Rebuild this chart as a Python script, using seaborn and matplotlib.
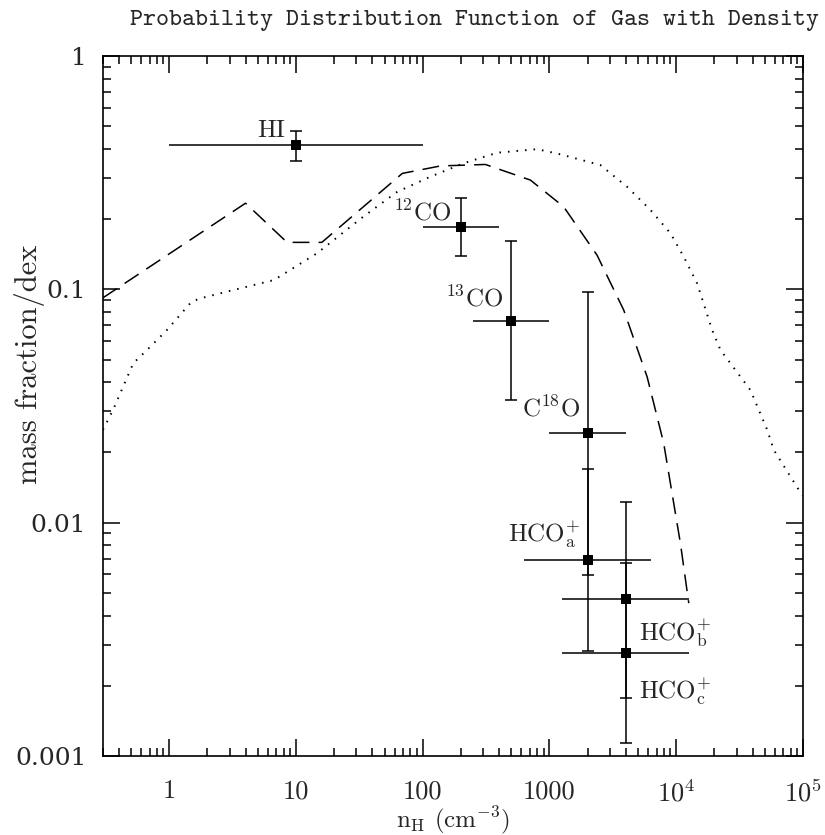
import matplotlib
matplotlib.use('Agg')
import numpy as np
import matplotlib.pyplot as plt
import seaborn as sns
from matplotlib.ticker import FixedLocator, FixedFormatter, LogLocator, NullFormatter

# observed mass fractions per tracer
tracers = ['HI', r'$^{12}$CO', r'$^{13}$CO', r'C$^{18}$O',
           r'HCO$^{+}_{\rm a}$', r'HCO$^{+}_{\rm b}$', r'HCO$^{+}_{\rm c}$']
n_H = [10, 200, 500, 2000, 2000, 4000, 4000]
n_lo = [1, 100, 250, 1000, 630, 1265, 1265]
n_hi = [100, 400, 1000, 4000, 6320, 12650, 12650]
frac = [0.415, 0.185, 0.0733, 0.0242, 0.00692, 0.00470, 0.00276]
frac_lo = [0.356, 0.139, 0.0336, 0.00597, 0.00282, 0.00178, 0.00114]
frac_hi = [0.478, 0.246, 0.161, 0.0977, 0.0170, 0.0123, 0.00671]

# model PDFs
dash_n = [0.30, 4.0, 8.5, 16, 69, 138, 312, 707, 1294, 2375, 3853, 5893, 7965, 10790, 12560]
dash_f = [0.092, 0.234, 0.159, 0.159, 0.314, 0.338, 0.343, 0.294, 0.226, 0.140,
          0.0815, 0.0422, 0.0219, 0.00816, 0.00452]
dot_n = [0.30, 0.36, 0.52, 0.71, 0.96, 1.5, 1.76, 3.2, 6.7, 14.6, 34, 63, 115, 210,
         386, 800, 1220, 2520, 4100, 6260, 9000, 11460, 14620, 19200, 22330, 38500,
         52200, 58850, 98600]
dot_f = [0.025, 0.0304, 0.0482, 0.0568, 0.067, 0.0885, 0.0915, 0.0993, 0.1096, 0.1426,
         0.205, 0.262, 0.304, 0.347, 0.385, 0.399, 0.379, 0.341, 0.275, 0.219, 0.174,
         0.138, 0.106, 0.067, 0.055, 0.037, 0.025, 0.0205, 0.0131]

x_ticks = [1, 10, 100, 1000, 1e4, 1e5]
x_ticklabels = ['1', '10', '100', '1000', r'$10^4$', r'$10^5$']
y_ticks = [0.001, 0.01, 0.1, 1]
y_ticklabels = ['0.001', '0.01', '0.1', '1']

sns.set_style('ticks')
plt.rcParams['font.family'] = ['cmr10', 'DejaVu Serif']
plt.rcParams['mathtext.fontset'] = 'cm'
plt.rcParams['axes.formatter.use_mathtext'] = True

fig = plt.figure(figsize=(8.25, 8.35), dpi=100)
ax = fig.add_axes([0.1248, 0.0946, 0.8485, 0.8383])
ax.set_xscale('log')
ax.set_yscale('log')

sns.lineplot(x=dash_n, y=dash_f, ax=ax, color='black', lw=1.1, sort=False,
             estimator=None, linestyle=(0, (11, 6)))
sns.lineplot(x=dot_n, y=dot_f, ax=ax, color='black', lw=1.4, sort=False,
             estimator=None, linestyle=(0, (0.8, 3.6)))

xerr = [np.array(n_H) - np.array(n_lo), np.array(n_hi) - np.array(n_H)]
yerr = [np.array(frac) - np.array(frac_lo), np.array(frac_hi) - np.array(frac)]
ax.errorbar(n_H, frac, xerr=xerr, fmt='none', ecolor='black', elinewidth=1.1, capsize=0)
ax.errorbar(n_H, frac, yerr=yerr, fmt='none', ecolor='black', elinewidth=1.1,
            capsize=4.5, capthick=1.1)
sns.scatterplot(x=n_H, y=frac, ax=ax, marker='s', s=50, color='black',
                edgecolor='black', linewidth=0, zorder=5)

# label offsets in pixels from each point
offsets = [(-11, 8, 'right'), (-10, 7, 'right'), (-8, 14, 'right'), (-7, 17, 'right'),
           (-8, 19, 'right'), (13, -41, 'left'), (13, -45, 'left')]
for name, x, y, (dx, dy, ha) in zip(tracers, n_H, frac, offsets):
    ax.annotate(name, xy=(x, y), xytext=(dx, dy), textcoords='offset pixels',
                ha=ha, va='baseline', fontsize=18)

ax.set_xlim(0.3, 1e5)
ax.set_ylim(0.001, 1)
ax.xaxis.set_major_locator(FixedLocator(x_ticks))
ax.xaxis.set_major_formatter(FixedFormatter(x_ticklabels))
ax.xaxis.set_minor_locator(LogLocator(base=10, subs=np.arange(2, 10), numticks=20))
ax.xaxis.set_minor_formatter(NullFormatter())
ax.yaxis.set_major_locator(FixedLocator(y_ticks))
ax.yaxis.set_major_formatter(FixedFormatter(y_ticklabels))
ax.yaxis.set_minor_locator(LogLocator(base=10, subs=np.arange(2, 10), numticks=20))
ax.yaxis.set_minor_formatter(NullFormatter())

ax.tick_params(which='both', direction='in', top=True, right=True, color='black',
               width=1.1)
ax.tick_params(which='major', length=12)
ax.tick_params(which='minor', length=6)
ax.tick_params(axis='x', which='major', labelsize=19, pad=17)
ax.tick_params(axis='y', which='major', labelsize=18, pad=12)
for lab in ax.get_yticklabels():
    lab.set_family('DejaVu Serif')
for sp in ax.spines.values():
    sp.set_linewidth(1.2)
    sp.set_color('black')

ax.set_xlabel(r'n$_{\rm H}$ (cm$^{-3}$)', fontsize=18, va='center')
ax.set_ylabel('mass fraction/dex', fontsize=22)
ax.xaxis.set_label_coords(0.5, -0.092)
ax.yaxis.set_label_coords(-0.083, 0.56)

fig.text(0.993, 0.976, 'Probability Distribution Function of Gas with Density',
         ha='right', va='center', fontsize=17.8, family='cmtt10')

fig.savefig('out.png', dpi=100)
